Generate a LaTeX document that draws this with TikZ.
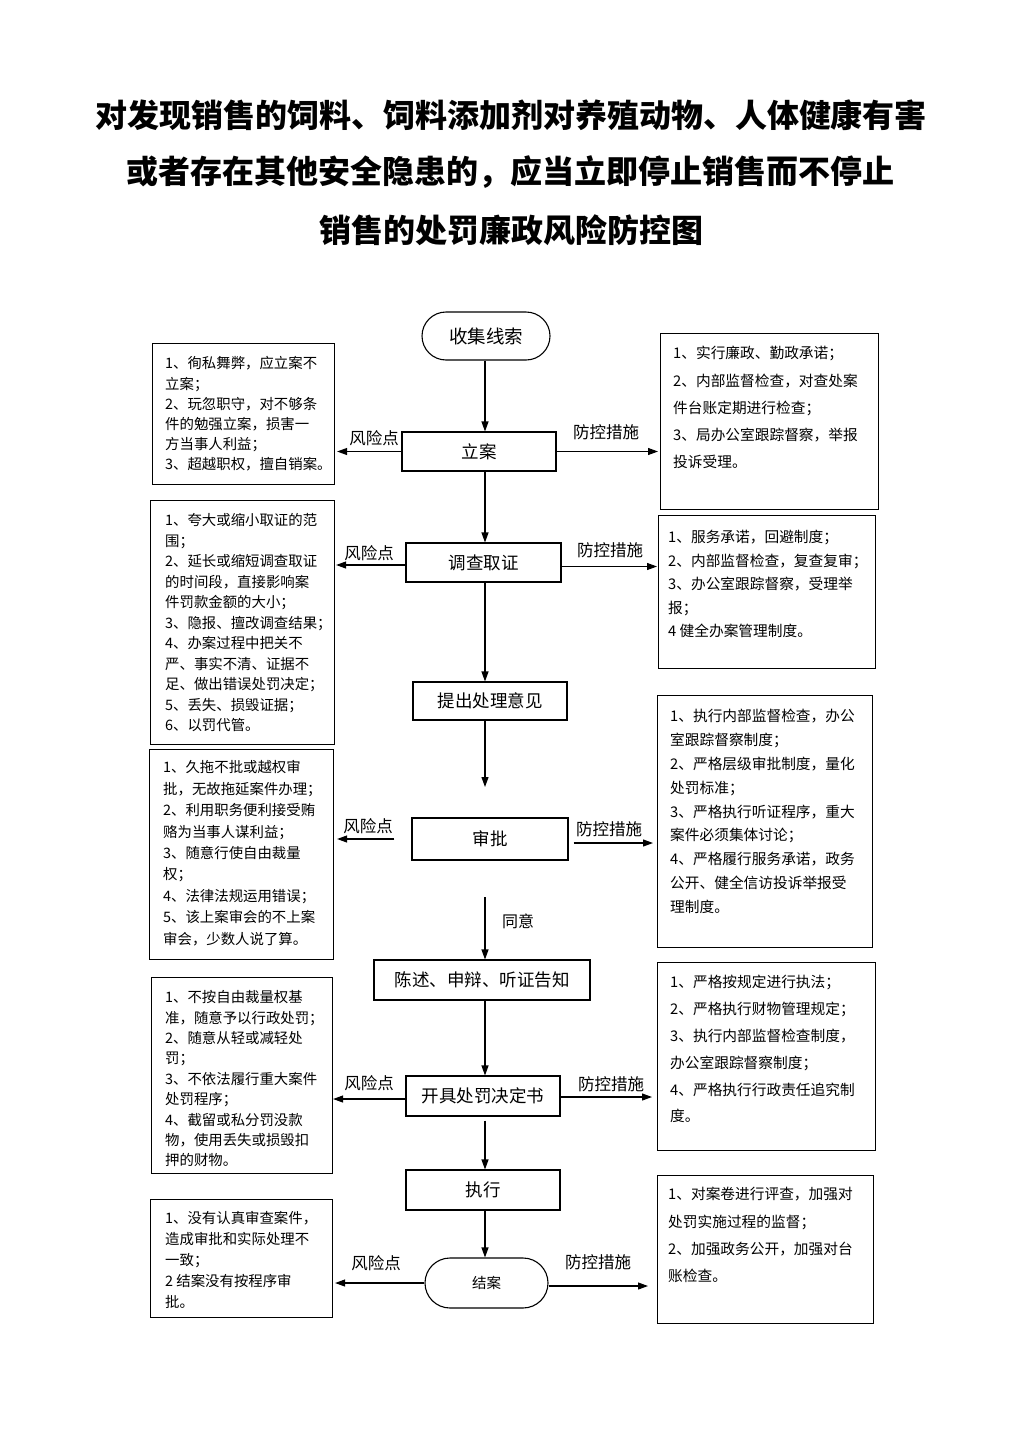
\documentclass[tikz,border=0pt]{standalone}
\usepackage{fontspec}
\setmainfont{Noto Sans CJK SC}
\usetikzlibrary{arrows.meta,calc}
\begin{document}
\begin{tikzpicture}[x=1pt,y=-1pt,
  flowbox/.style={draw,line width=1.1pt,inner sep=0pt,font=\fontsize{17.5}{20}\selectfont},
  termbox/.style={draw,line width=1.1pt,inner sep=0pt},
  sidebox/.style={draw,line width=1.1pt,anchor=north west,inner sep=0pt},
  sidetxt/.style={anchor=north west,inner sep=0pt,align=left},
  lab/.style={font=\fontsize{16.5}{18}\selectfont,inner sep=0pt},
  arr/.style={line width=1.1pt,-{Triangle[length=10pt,width=7pt]}}]
\fill[white] (0,0) rectangle (1024,1448);
\useasboundingbox (0,0) rectangle (1024,1448);

% title
\node[font=\fontsize{32}{36}\selectfont\bfseries] (t1) at (511,115) {对发现销售的饲料、饲料添加剂对养殖动物、人体健康有害};
\node[font=\fontsize{32}{36}\selectfont\bfseries] (t2) at (510,172) {或者存在其他安全隐患的，应当立即停止销售而不停止};
\node[font=\fontsize{32}{36}\selectfont\bfseries] (t3) at (511,230) {销售的处罚廉政风险防控图};

% flow nodes
\node[termbox,rounded corners=24pt,minimum width=128pt,minimum height=48pt,font=\fontsize{18.5}{20}\selectfont] (sjxs) at (486,336) {收集线索};
\node[flowbox,minimum width=154pt,minimum height=39pt] (lian) at (479,451.5) {立案};
\node[flowbox,minimum width=155pt,minimum height=39pt] (dcqz) at (483.5,562.5) {调查取证};
\node[flowbox,minimum width=154pt,minimum height=38pt] (tcyj) at (490,701) {提出处理意见};
\node[flowbox,minimum width=156pt,minimum height=42pt] (shenpi) at (490,839) {审批};
\node[flowbox,minimum width=216pt,minimum height=40pt] (csxz) at (482,980) {陈述、申辩、听证告知};
\node[flowbox,minimum width=154pt,minimum height=40pt] (kjjds) at (483,1096) {开具处罚决定书};
\node[flowbox,minimum width=154pt,minimum height=40pt] (zx) at (483,1190) {执行};
\node[termbox,rounded corners=25pt,minimum width=123pt,minimum height=50pt,font=\fontsize{14.5}{16}\selectfont] (jiean) at (486.5,1283) {结案};

\coordinate (cx) at (485,0);
\coordinate (a1) at (485,787);
\coordinate (a2) at (485,897);

% vertical connectors
\draw[arr] (cx |- sjxs.south) -- (cx |- lian.north);
\draw[arr] (cx |- lian.south) -- (cx |- dcqz.north);
\draw[arr] (cx |- dcqz.south) -- (cx |- tcyj.north);
\draw[arr] (cx |- tcyj.south) -- (a1);
\draw[arr] (a2) -- (cx |- csxz.north);
\node[lab,font=\fontsize{16}{18}\selectfont] (ty) at (518,921) {同意};
\draw[arr] (cx |- csxz.south) -- (cx |- kjjds.north);
\draw[arr] ([yshift=-4pt]cx |- kjjds.south) -- (cx |- zx.north);
\draw[arr] (cx |- zx.south) -- (cx |- jiean.north);

% left boxes
\node[sidebox,minimum width=182pt,minimum height=141pt] (l1) at (152,343) {};
\node[sidetxt,font=\fontsize{14.4}{20.2}\selectfont] (l1t) at (165,356.5) {1、徇私舞弊，应立案不\\立案；\\2、玩忽职守，对不够条\\件的勉强立案，损害一\\方当事人利益；\\3、超越职权，擅自销案。};

\node[sidebox,minimum width=184pt,minimum height=244pt] (l2) at (150,500) {};
\node[sidetxt,font=\fontsize{14.4}{20.5}\selectfont] (l2t) at (165,513.5) {1、夸大或缩小取证的范\\围；\\2、延长或缩短调查取证\\的时间段，直接影响案\\件罚款金额的大小；\\3、隐报、擅改调查结果；\\4、办案过程中把关不\\严、事实不清、证据不\\足、做出错误处罚决定；\\5、丢失、损毁证据；\\6、以罚代管。};

\node[sidebox,minimum width=184pt,minimum height=210pt] (l3) at (149,749) {};
\node[sidetxt,font=\fontsize{14.4}{21.4}\selectfont] (l3t) at (163,760.4) {1、久拖不批或越权审\\批，无故拖延案件办理；\\2、利用职务便利接受贿\\赂为当事人谋利益；\\3、随意行使自由裁量\\权；\\4、法律法规运用错误；\\5、该上案审会的不上案\\审会，少数人说了算。};

\node[sidebox,minimum width=181pt,minimum height=196pt] (l4) at (151,977) {};
\node[sidetxt,font=\fontsize{14.4}{20.4}\selectfont] (l4t) at (165,990.4) {1、不按自由裁量权基\\准，随意予以行政处罚；\\2、随意从轻或减轻处\\罚；\\3、不依法履行重大案件\\处罚程序；\\4、截留或私分罚没款\\物，使用丢失或损毁扣\\押的财物。};

\node[sidebox,minimum width=182pt,minimum height=118pt] (l5) at (150,1199) {};
\node[sidetxt,font=\fontsize{14.4}{21}\selectfont] (l5t) at (165,1211.4) {1、没有认真审查案件，\\造成审批和实际处理不\\一致；\\2 结案没有按程序审\\批。};

% right boxes
\node[sidebox,minimum width=218pt,minimum height=176pt] (r1) at (660,333) {};
\node[sidetxt,font=\fontsize{14.7}{27.25}\selectfont] (r1t) at (673,346.2) {1、实行廉政、勤政承诺；\\2、内部监督检查，对查处案\\件台账定期进行检查；\\3、局办公室跟踪督察，举报\\投诉受理。};

\node[sidebox,minimum width=217pt,minimum height=153pt] (r2) at (658,515) {};
\node[sidetxt,font=\fontsize{14.7}{23.5}\selectfont] (r2t) at (668,530.2) {1、服务承诺，回避制度；\\2、内部监督检查，复查复审；\\3、办公室跟踪督察，受理举\\报；\\4 健全办案管理制度。};

\node[sidebox,minimum width=215pt,minimum height=252pt] (r3) at (657,695) {};
\node[sidetxt,font=\fontsize{14.7}{23.8}\selectfont] (r3t) at (670,709.2) {1、执行内部监督检查，办公\\室跟踪督察制度；\\2、严格层级审批制度，量化\\处罚标准；\\3、严格执行听证程序，重大\\案件必须集体讨论；\\4、严格履行服务承诺，政务\\公开、健全信访投诉举报受\\理制度。};

\node[sidebox,minimum width=218pt,minimum height=188pt] (r4) at (657,962) {};
\node[sidetxt,font=\fontsize{14.7}{26.8}\selectfont] (r4t) at (670,975.2) {1、严格按规定进行执法；\\2、严格执行财物管理规定；\\3、执行内部监督检查制度，\\办公室跟踪督察制度；\\4、严格执行行政责任追究制\\度。};

\node[sidebox,minimum width=216pt,minimum height=148pt] (r5) at (657,1175) {};
\node[sidetxt,font=\fontsize{14.7}{27.3}\selectfont] (r5t) at (668,1187.2) {1、对案卷进行评查，加强对\\处罚实施过程的监督；\\2、加强政务公开，加强对台\\账检查。};

% horizontal connectors
\draw[arr,shorten >=2pt] (lian.west) -- (lian.west -| l1.east);
\draw[arr,shorten >=2pt] (lian.east) -- (lian.east -| r1.west);
\draw[arr,shorten >=1pt] ([yshift=-2.5pt]dcqz.west) -- ([yshift=-2.5pt]dcqz.west -| l2.east);
\draw[arr,shorten >=1pt] ([yshift=-4pt]dcqz.east) -- ([yshift=-4pt]dcqz.east -| r2.west);
\draw[arr,shorten >=3pt] ([xshift=-17pt]shenpi.west) -- (shenpi.west -| l3.east);
\draw[arr,shorten >=4pt] ([xshift=5pt,yshift=-4pt]shenpi.east) -- ([yshift=-4pt]shenpi.east -| r3.west);
\draw[arr] ([yshift=-3pt]kjjds.west) -- ([yshift=-3pt]kjjds.west -| l4.east);
\draw[arr,shorten >=5pt] ([yshift=-1pt]kjjds.east) -- ([yshift=-1pt]kjjds.east -| r4.west);
\draw[arr,shorten >=2pt] (jiean.west) -- (jiean.west -| l5.east);
\draw[arr,shorten >=9pt] ([yshift=-3pt]jiean.east) -- ([yshift=-3pt]jiean.east -| r5.west);

% labels
\node[lab] (f1) at (374,438) {风险点};
\node[lab] (p1) at (606,432) {防控措施};
\node[lab] (f2) at (369,553) {风险点};
\node[lab] (p2) at (610,550) {防控措施};
\node[lab] (f3) at (368,826) {风险点};
\node[lab] (p3) at (609,829) {防控措施};
\node[lab] (f4) at (369,1083) {风险点};
\node[lab] (p4) at (611,1084) {防控措施};
\node[lab] (f5) at (376,1263) {风险点};
\node[lab] (p5) at (598,1262) {防控措施};
\end{tikzpicture}
\end{document}
